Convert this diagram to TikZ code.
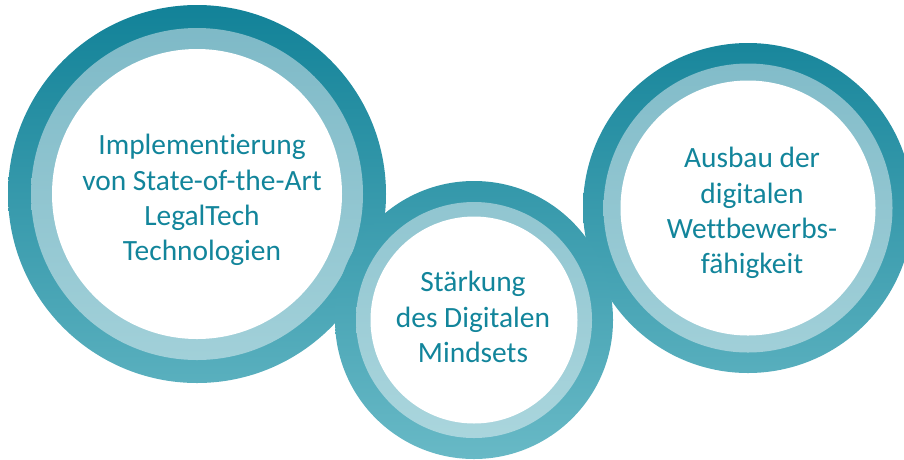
\documentclass[tikz,border=0pt]{standalone}
\usepackage{fontspec}
\setmainfont{Carlito}[Ligatures=NoCommon]
\usepackage{tikz}
\usetikzlibrary{positioning, calc}

% one vertical gradient for the whole picture (y = 5 ... 459)
\definecolor{ringtop}{RGB}{18,130,152}
\definecolor{ringbot}{RGB}{104,185,198}
\definecolor{lighttop}{RGB}{124,184,198}
\definecolor{lightbot}{RGB}{172,215,222}
\definecolor{textteal}{RGB}{18,133,155}

\begin{document}
\begin{tikzpicture}[x=1pt, y=-1pt,
  outerring/.style n args={3}{circle, draw=none, inner sep=0pt, minimum size=#1, top color=ringtop!#2!ringbot, bottom color=ringtop!#3!ringbot},
  innerring/.style n args={3}{circle, draw=none, inner sep=0pt, minimum size=#1, top color=lighttop!#2!lightbot, bottom color=lighttop!#3!lightbot},
  core/.style={circle, draw=none, inner sep=0pt, minimum size=#1, fill=white},
  ringtext/.style={text=textteal, align=center, font=\fontsize{29.4}{35.3}\selectfont}]
  \useasboundingbox (0,0) rectangle (904,459);
  \clip (0,0) rectangle (904,459);

  % left circle
  \node[outerring={378}{100}{17}] (implout) at (197,194) {};
  \node[innerring={332}{95}{22}] (implin) at (implout.center) {};
  \node[core=290] (implcore) at (implout.center) {};
  \node[ringtext] (impltext) at ($(implcore.center)+(5,6)$) {Implementierung\\von State-of-the-Art\\LegalTech\\Technologien};

  % right circle
  \node[outerring={330}{92}{19}] (wettout) at (748,208) {};
  \node[innerring={289}{87}{24}] (wettin) at (wettout.center) {};
  \node[core=255] (wettcore) at (wettout.center) {};
  \node[ringtext] (wetttext) at ($(wettcore.center)+(4,5)$) {Ausbau der\\digitalen\\Wettbewerbs-\\fähigkeit};

  % middle circle
  \node[outerring={278}{61}{0}] (mindout) at (474,320) {};
  \node[innerring={236}{57}{5}] (mindin) at (mindout.center) {};
  \node[core=207] (mindcore) at (mindout.center) {};
  \node[ringtext] (mindtext) at ($(mindcore.center)+(-1,-3)$) {Stärkung\\des Digitalen\\Mindsets};
\end{tikzpicture}
\end{document}
